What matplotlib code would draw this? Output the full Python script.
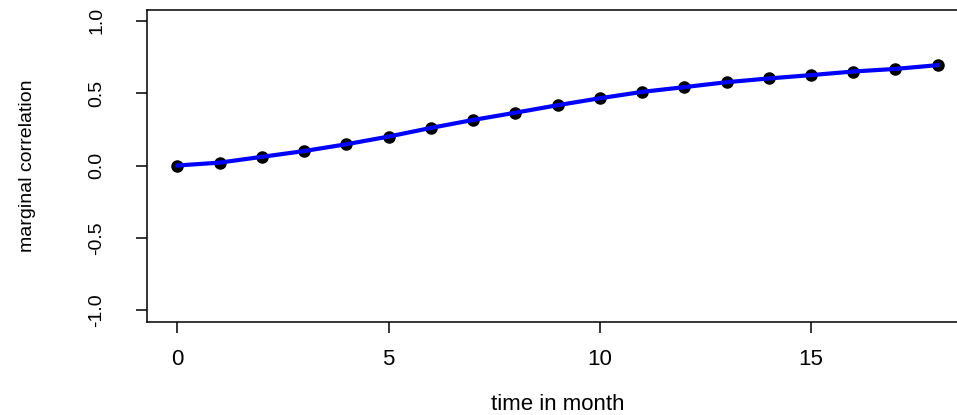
import matplotlib
matplotlib.use("Agg")
import matplotlib.pyplot as plt

# valores
months = list(range(19))
corr = [0.0, 0.02, 0.06, 0.10, 0.147, 0.20, 0.26, 0.315, 0.365, 0.417, 0.465,
        0.509, 0.542, 0.576, 0.602, 0.625, 0.65, 0.668, 0.694]
x_ticks = [0, 5, 10, 15]
y_ticks = [-1.0, -0.5, 0.0, 0.5, 1.0]
y_tick_labels = ["-1.0", "-0.5", "0.0", "0.5", "1.0"]

plt.rcParams['font.family'] = ['Liberation Sans', 'DejaVu Sans']

def main():
    fig = plt.figure(figsize=(9.57, 4.15), dpi=100)
    ax = fig.add_axes([0.1536, 0.2248, 0.858, 0.751])

    ax.plot(months, corr, 'o', color='black', markersize=8, zorder=2)
    ax.plot(months, corr, '-', color='#0000ff', linewidth=3, zorder=3)

    ax.set_xlim(-0.72, 18.72)
    ax.set_ylim(-1.08, 1.075)
    ax.set_xticks(x_ticks)
    ax.set_yticks(y_ticks)
    ax.set_yticklabels(y_tick_labels, rotation=90, va='center')
    ax.tick_params(axis='both', direction='out', length=8, width=1.1,
                   color='black', labelsize=14)
    ax.tick_params(axis='x', pad=12, labelsize=16)
    ax.tick_params(axis='y', pad=22)
    for s in ax.spines.values():
        s.set_linewidth(1.1)

    ax.set_xlabel('time in month', fontsize=16, labelpad=17)
    ax.set_ylabel('marginal correlation', fontsize=14, labelpad=38)

    fig.savefig('out.png', dpi=100)

if __name__ == "__main__":
    main()
